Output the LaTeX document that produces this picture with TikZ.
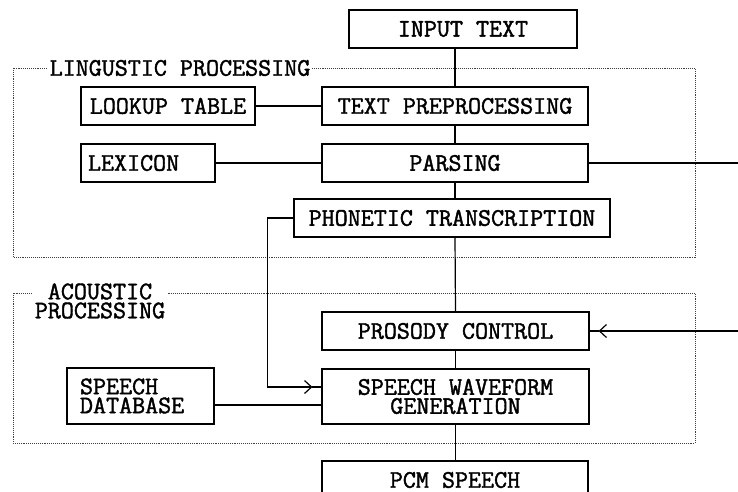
\documentclass[tikz,border=0pt]{standalone}
\usepackage{fontspec}
\newfontfamily\boxfont{Latin Modern Mono}[FakeBold=1.6]
\usepackage{tikz}
\usetikzlibrary{arrows.meta, positioning, calc}
\tikzset{
    block/.style={
        rectangle,
        draw=black,
        line width=1.2pt,
        minimum height=38pt,
        inner xsep=7pt,
        align=center,
        font=\boxfont\fontsize{25.3}{19}\selectfont
    },
    group/.style={draw=black!75, densely dotted, line width=0.9pt},
    grouptitle/.style={fill=white, inner sep=2pt, align=center,
        font=\boxfont\fontsize{25.3}{19}\selectfont},
    line/.style={draw, line width=1.2pt},
    barb/.style={line, -{Straight Barb[length=7pt, width=13pt, line width=1.2pt]}}
}
\begin{document}
\begin{tikzpicture}[x=1pt, y=-1pt]
    \clip (0,0) rectangle (738,491);
    \fill[white] (0,0) rectangle (738,491);

    % Groups
    \draw[group] (13,68) rectangle (695,257);
    \draw[group] (13,293) rectangle (695,443);
    \node[grouptitle] (lingTitle) at (180,68) {LINGUSTIC PROCESSING};
    \node[grouptitle] (acouTitle) at (100,301) {ACOUSTIC\\PROCESSING};

    % Nodes
    \node[block, minimum width=228pt] (input) at (463,29) {INPUT TEXT};
    \node[block, minimum width=174pt] (lookup) at (168,106) {LOOKUP TABLE};
    \node[block, minimum width=266pt] (prep) at (455,106) {TEXT PREPROCESSING};
    \node[block, text width=120pt, align=left] (lexicon) at (148,163) {LEXICON};
    \node[block, minimum width=266pt] (parsing) at (455,163) {PARSING};
    \node[block, minimum width=316pt] (phonetic) at (452,218) {PHONETIC TRANSCRIPTION};
    \node[block, minimum width=267pt] (prosody) at (455.5,331) {PROSODY CONTROL};
    \node[block, minimum width=267pt, minimum height=55pt] (wave) at (455.5,396.5) {SPEECH WAVEFORM\\GENERATION};
    \node[block, text width=133pt, minimum height=56pt, align=left] (database) at (140.5,396) {\hspace*{6pt}SPEECH\\\hspace*{6pt}DATABASE};
    \node[block, minimum width=266pt] (pcm) at (455,480) {PCM SPEECH};

    \coordinate (parsOut) at (740,163);
    \coordinate (prosIn) at (740,331);
    \coordinate (waveIn) at ([yshift=9.5pt]wave.west);
    \coordinate (dbOut) at ([yshift=-9pt]database.east);

    % Connections
    \path[line] (prep.north |- input.south) -- (prep.north);
    \path[line] (lookup) -- (prep);
    \path[line] (lexicon) -- (parsing);
    \path[line] (prep) -- (parsing);
    \path[line] (parsing.south) -- (parsing.south |- phonetic.north);
    \path[line] (parsing.south |- phonetic.south) -- (prosody.north);
    \path[line] (prosody) -- (wave);
    \path[line] (wave.south) -- (wave.south |- pcm.north);
    \path[line] (parsing) -- (parsOut);

    \path[barb] (prosIn) -- ([xshift=9pt]prosody.east);
    \path[line] ([xshift=9pt]prosody.east) -- (prosody.east);
    \path[barb] (phonetic.west) -- ++(-26,0) |- ([xshift=-9pt]waveIn);
    \path[line] ([xshift=-9pt]waveIn) -- (waveIn);
    \path[line] (dbOut) -- (dbOut -| wave.west);

\end{tikzpicture}
\end{document}
